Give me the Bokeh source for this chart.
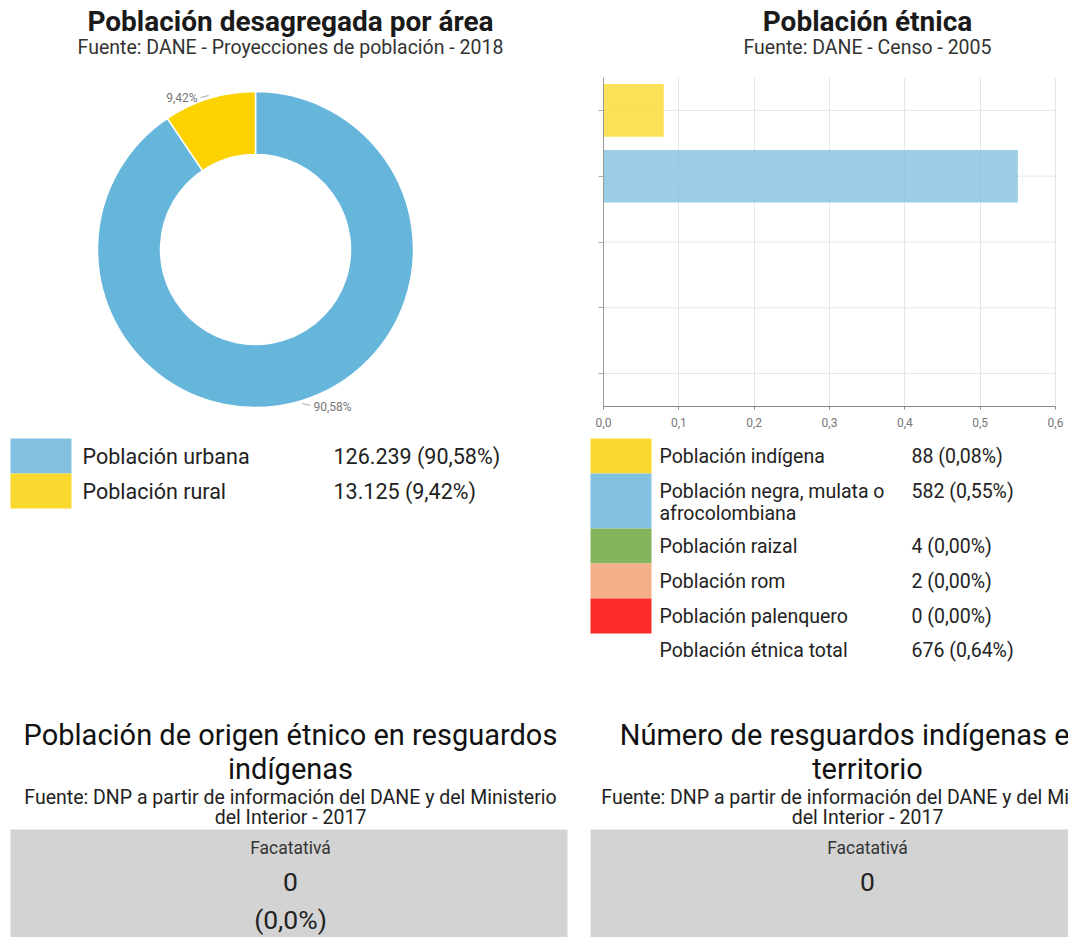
import numpy as np
from bokeh.plotting import figure
from bokeh.models import Range1d, FactorRange, ColumnDataSource, FixedTicker, CustomJSTickFormatter
from bokeh.layouts import row, column
from bokeh.core.properties import value
from bokeh.embed import file_html
from bokeh.resources import INLINE

# ---------------- data ----------------
area_labels = ["Población urbana", "Población rural"]
area_values = [126239, 13125]
area_pct = [90.58, 9.42]
area_colors_pie = ["#66B5DB", "#FCD202"]
area_colors_leg = ["#83C1E1", "#F9D92E"]

etnia_labels = ["Población indígena", "Población negra, mulata o afrocolombiana",
                "Población raizal", "Población rom", "Población palenquero"]
etnia_values = [88, 582, 4, 2, 0]
etnia_pct = [0.08, 0.55, 0.00, 0.00, 0.00]
etnia_colors = ["#F9D92E", "#83C1E1", "#84B55E", "#F3AF88", "#FE2B2B"]
etnia_total_label = "Población étnica total"
etnia_total_value = 676
etnia_total_pct = 0.64
etnia_ticks = [0.0, 0.1, 0.2, 0.3, 0.4, 0.5, 0.6]

municipio = "Facatativá"
resguardo_pob = 0
resguardo_pob_pct = 0.0
resguardo_num = 0

FONT = "Roboto"


def fmt_num(n):
    return f"{n:,}".replace(",", ".")


def fmt_pct(v, d=2):
    return f"{v:.{d}f}".replace(".", ",")


def canvas(x0, x1, y0, y1):
    p = figure(width=round(x1 - x0), height=round(y1 - y0),
               x_range=Range1d(x0, x1), y_range=Range1d(y1, y0),
               x_axis_type=None, y_axis_type=None,
               output_backend="svg", toolbar_location=None,
               min_border=0, min_border_left=0, min_border_right=0,
               min_border_top=0, min_border_bottom=0)
    p.outline_line_color = None
    p.background_fill_color = "white"
    p.border_fill_color = "white"
    return p


def txt(p, x, y, s, size, style="normal", align="center", color="#222222", baseline="middle"):
    p.text(x=[x], y=[y], text=[s], text_font=value(FONT), text_font_size=value(f"{size}px"),
           text_font_style=value(style), text_align=value(align),
           text_baseline=value(baseline), text_color=color)


# ---------------- top-left: donut ----------------
L = canvas(0, 588, 0, 690)
txt(L, 290, 21, "Población desagregada por área", 28, "bold", color="#1a1a1a")
txt(L, 290, 47, "Fuente: DANE - Proyecciones de población - 2018", 19.5, color="#333333")

cx, cy, r_in, r_out = 255, 249, 95, 158
vals = np.array(area_values, dtype=float)
frac = vals / vals.sum()
ends = np.pi / 2 - 2 * np.pi * np.cumsum(frac)
starts = np.concatenate([[np.pi / 2], ends[:-1]])
src = ColumnDataSource(dict(start=starts, end=ends, color=area_colors_pie))
L.annular_wedge(x=cx, y=cy, inner_radius=r_in, outer_radius=r_out,
                start_angle="start", end_angle="end", direction="clock",
                fill_color="color", line_color="white", line_width=1.5, source=src)

mids = (starts + ends) / 2
for m, pc in zip(mids, area_pct):
    ux, uy = np.cos(m), -np.sin(m)  # y grows downward on this canvas
    x1, y1 = cx + (r_out + 3) * ux, cy + (r_out + 3) * uy
    side = 1 if ux >= 0 else -1
    x2, y2 = x1 + side * 8, y1 + 2
    L.line(x=[x1, x2], y=[y1, y2], line_color="#aaaaaa", line_width=1)
    txt(L, x2 + side * 3, y2 + 1, fmt_pct(pc) + "%", 12, align="left" if side > 0 else "right",
        color="#777777")

for i, (lab, v, pc, col) in enumerate(zip(area_labels, area_values, area_pct, area_colors_leg)):
    top = 438 + 35 * i
    L.quad(left=10, right=71, top=top, bottom=top + 35, fill_color=col, line_color=None)
    txt(L, 82, top + 18, lab, 21.5, align="left", color="#222222")
    txt(L, 333, top + 18, f"{fmt_num(v)} ({fmt_pct(pc)}%)", 21.5, align="left", color="#222222")

# ---------------- top-right: bar chart ----------------
RT = canvas(588, 1068, 0, 77)
txt(RT, 867, 21, "Población étnica", 28, "bold", color="#1a1a1a")
txt(RT, 867, 47, "Fuente: DANE - Censo - 2005", 19.5, color="#333333")

# frame spans the whole 480px width; the value axis 0..0.6 sits at page x 603..1055
px_per_unit = (1055 - 603) / (etnia_ticks[-1] - etnia_ticks[0])
x_lo = etnia_ticks[0] - (603 - 588) / px_per_unit
x_hi = etnia_ticks[-1] + (1068 - 1055) / px_per_unit

RB = figure(width=480, height=359, x_range=Range1d(x_lo, x_hi),
            y_range=FactorRange(factors=etnia_labels[::-1]),
            output_backend="svg", toolbar_location=None,
            min_border=0, min_border_left=0, min_border_right=0,
            min_border_top=0, min_border_bottom=30)
RB.outline_line_color = None
RB.ygrid.visible = False
RB.segment(x0=etnia_ticks[0], x1=etnia_ticks[-1], y0=etnia_labels, y1=etnia_labels,
           line_color="#e6e6e6", line_width=1)
RB.hbar(y=etnia_labels, right=etnia_pct, height=0.8, fill_color=etnia_colors,
        fill_alpha=0.8, line_color=None)
RB.xaxis.ticker = FixedTicker(ticks=etnia_ticks)
RB.xaxis.bounds = (etnia_ticks[0], etnia_ticks[-1])
RB.xaxis.formatter = CustomJSTickFormatter(code="return tick.toFixed(1).replace('.', ',');")
RB.xaxis.major_label_text_font = FONT
RB.xaxis.major_label_text_font_size = "12px"
RB.xaxis.major_label_text_color = "#777777"
RB.xaxis.major_tick_out = 3
RB.xaxis.major_tick_in = 0
RB.xaxis.minor_tick_out = 0
RB.xaxis.minor_tick_in = 0
RB.xaxis.major_label_standoff = 8
RB.xaxis.axis_line_color = "#888888"
RB.xaxis.major_tick_line_color = "#888888"
RB.yaxis.fixed_location = etnia_ticks[0]
RB.yaxis.major_label_text_color = None
RB.yaxis.major_label_standoff = 0
RB.yaxis.major_tick_out = 5
RB.yaxis.major_tick_in = 0
RB.yaxis.axis_line_color = "#999999"
RB.yaxis.major_tick_line_color = "#aaaaaa"
RB.xgrid.grid_line_color = "#e6e6e6"
RB.xgrid.ticker = FixedTicker(ticks=etnia_ticks)

RL = canvas(588, 1068, 436, 690)
wrap = {"Población negra, mulata o afrocolombiana": ["Población negra, mulata o", "afrocolombiana"]}
top = 438
for lab, v, pc, col in zip(etnia_labels, etnia_values, etnia_pct, etnia_colors):
    lines = wrap.get(lab, [lab])
    h = 35 + 20 * (len(lines) - 1)
    RL.quad(left=590, right=651, top=top, bottom=top + h, fill_color=col, line_color=None)
    for k, ln in enumerate(lines):
        txt(RL, 659, top + 17.5 + 22 * k, ln, 19.5, align="left")
    txt(RL, 911, top + 17.5, f"{fmt_num(v)} ({fmt_pct(pc)}%)", 19.5, align="left")
    top += h
txt(RL, 659, top + 17, etnia_total_label, 19.5, align="left")
txt(RL, 911, top + 17, f"{fmt_num(etnia_total_value)} ({fmt_pct(etnia_total_pct)}%)", 19.5, align="left")

# ---------------- bottom: cards ----------------
B = canvas(0, 1068, 690, 937)
for cxx, t1, t2, box_l, box_r in [(290, "Población de origen étnico en resguardos", "indígenas", 10, 567),
                                   (867, "Número de resguardos indígenas en el", "territorio", 590, 1075)]:
    txt(B, cxx, 734, t1, 29, color="#111111")
    txt(B, cxx, 768, t2, 29, color="#111111")
    txt(B, cxx, 797, "Fuente: DNP a partir de información del DANE y del Ministerio", 19.5, color="#222222")
    txt(B, cxx, 817, "del Interior - 2017", 19.5, color="#222222")
    B.quad(left=box_l, right=box_r, top=829, bottom=945, fill_color="#D3D3D3", line_color=None)
    txt(B, cxx, 847, municipio, 17.5, color="#333333")

txt(B, 290, 881, fmt_num(resguardo_pob), 26.5, color="#222222")
txt(B, 290, 919, f"({fmt_pct(resguardo_pob_pct, 1)}%)", 26.5, color="#222222")
txt(B, 867, 881, fmt_num(resguardo_num), 26.5, color="#222222")

layout = column(row(L, column(RT, RB, RL)), B)
open("out.html", "w").write(file_html(layout, INLINE))
